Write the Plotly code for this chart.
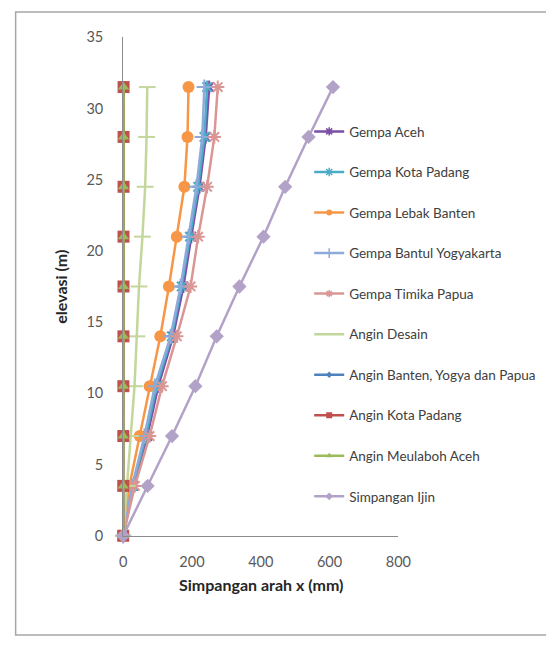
import plotly.graph_objects as go

# Storey elevations (m)
elevasi = [0, 3.5, 7, 10.5, 14, 17.5, 21, 24.5, 28, 31.5]

# Lateral drift in x direction (mm) for each load case
gempa_aceh = [0, 30, 70, 102, 145, 175, 198, 222, 240, 250]
gempa_kota_padang = [0, 28, 66, 97, 141, 170, 194, 218, 236, 244]
gempa_lebak_banten = [0, 18, 48, 77, 108, 133, 156, 178, 187, 190]
gempa_bantul = [0, 26, 62, 92, 138, 167, 190, 213, 230, 236]
gempa_timika = [0, 34, 77, 113, 156, 196, 218, 244, 265, 275]
angin_desain = [0, 12, 22, 33, 40, 46, 56, 64, 68, 70]
angin_banten = [0, 0.3, 0.6, 0.9, 1.1, 1.3, 1.5, 1.6, 1.7, 1.8]
angin_kota_padang = [0, 0.2, 0.4, 0.6, 0.8, 0.9, 1.0, 1.1, 1.2, 1.2]
angin_meulaboh = [0, 0.2, 0.4, 0.5, 0.7, 0.8, 0.9, 1.0, 1.0, 1.1]
simpangan_ijin = [0, 71, 142, 210, 272, 338, 408, 471, 539, 610]

# name, values, colour, marker symbol, marker size on the plot, size in legend
series = [
    ("Gempa Aceh", gempa_aceh, "#7a4fa8", "asterisk-open", 11, 7),
    ("Gempa Kota Padang", gempa_kota_padang, "#4bacc6", "asterisk-open", 11, 7),
    ("Gempa Lebak Banten", gempa_lebak_banten, "#f79646", "circle", 12, 6),
    ("Gempa Bantul Yogyakarta", gempa_bantul, "#8eaadb", "cross-thin-open", 11, 7),
    ("Gempa Timika Papua", gempa_timika, "#d99694", "asterisk-open", 11, 6),
    ("Angin Desain", angin_desain, "#c3d69b", "line-ew-open", 12, 6),
    ("Angin Banten, Yogya dan Papua", angin_banten, "#4f81bd", "diamond", 6, 5),
    ("Angin Kota Padang", angin_kota_padang, "#c0504d", "square", 12, 6),
    ("Angin Meulaboh Aceh", angin_meulaboh, "#9bbb59", "triangle-up", 10, 6),
    ("Simpangan Ijin", simpangan_ijin, "#b3a2c7", "diamond", 11, 6),
]

fig = go.Figure()
for i, (name, vals, color, sym, size, lsize) in enumerate(series):
    open_sym = sym.endswith("-open")
    # plotted series
    fig.add_trace(go.Scatter(
        x=vals, y=elevasi, name=name, mode="lines+markers",
        legendgroup=f"g{i}", showlegend=False,
        line=dict(color=color, width=2.5),
        marker=dict(symbol=sym, size=size, color=color,
                    line=dict(color=color, width=2 if open_sym else 0)),
        cliponaxis=False,
    ))
    # legend entry with the smaller marker used in the key
    fig.add_trace(go.Scatter(
        x=[None], y=[None], name=name, mode="lines+markers",
        legendgroup=f"g{i}", showlegend=True,
        line=dict(color=color, width=2.5),
        marker=dict(symbol=sym, size=lsize, color=color,
                    line=dict(color=color, width=1.5 if open_sym else 0)),
    ))

W, H = 546, 645
fig.update_layout(
    width=W, height=H,
    margin=dict(l=0, r=0, t=0, b=0),
    paper_bgcolor="white", plot_bgcolor="white",
    font=dict(family="Lato, Liberation Sans, sans-serif", size=14.5, color="#595959"),
    showlegend=True,
    legend=dict(
        x=315 / W, xanchor="left", y=(H - 110) / H, yanchor="top",
        traceorder="grouped", tracegroupgap=20,
        font=dict(size=13.5, color="#404040"),
        bgcolor="rgba(0,0,0,0)", borderwidth=0,
    ),
    xaxis=dict(
        domain=[123 / W, 407 / W], range=[0, 800],
        tickvals=[0, 200, 400, 600, 800],
        showline=True, linecolor="#8c8c8c", linewidth=1,
        showgrid=False, zeroline=False, ticks="",
        ticklabelstandoff=13,
    ),
    yaxis=dict(
        domain=[(H - 541) / H, (H - 29) / H], range=[0, 35],
        tickvals=[0, 5, 10, 15, 20, 25, 30, 35],
        showline=True, linecolor="#8c8c8c", linewidth=1,
        showgrid=False, zeroline=False, ticks="",
        ticklabelstandoff=16,
    ),
    annotations=[
        dict(text="<b>Simpangan arah x (mm)</b>", x=265 / W, y=(H - 591) / H,
             xref="paper", yref="paper", xanchor="center", yanchor="middle",
             showarrow=False, font=dict(size=16, color="#262626")),
        dict(text="<b>elevasi (m)</b>", x=58 / W, y=(H - 285) / H,
             xref="paper", yref="paper", xanchor="center", yanchor="middle",
             showarrow=False, textangle=-90,
             font=dict(size=16, color="#262626")),
    ],
    shapes=[
        dict(type="rect", xref="paper", yref="paper",
             x0=12 / W, x1=1.05, y0=(H - 643) / H, y1=(H - 3) / H,
             line=dict(color="#a6a6a6", width=1.5), fillcolor="rgba(0,0,0,0)"),
    ],
)

fig.write_html("out.html")
